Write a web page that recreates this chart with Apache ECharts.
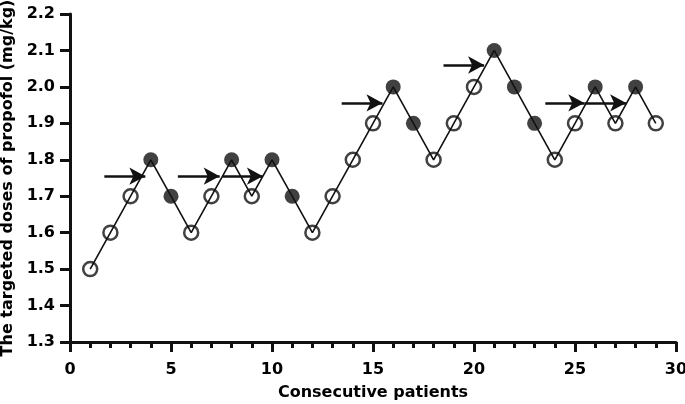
<!DOCTYPE html>
<html><head><meta charset="utf-8">
<script src="https://cdn.jsdelivr.net/npm/echarts@6/dist/echarts.min.js"></script>
<style>html,body{margin:0;padding:0;background:#fff}#c{width:685px;height:404px}</style>
</head><body><div id="c"></div>
<script>
const patients = [1,2,3,4,5,6,7,8,9,10,11,12,13,14,15,16,17,18,19,20,21,22,23,24,25,26,27,28,29];
const doses = [1.5,1.6,1.7,1.8,1.7,1.6,1.7,1.8,1.7,1.8,1.7,1.6,1.7,1.8,1.9,2.0,1.9,1.8,1.9,2.0,2.1,2.0,1.9,1.8,1.9,2.0,1.9,2.0,1.9];
// 1 = filled (response), 0 = open
const filled = [0,0,0,1,1,0,0,1,0,1,1,0,0,0,0,1,1,0,0,0,1,1,1,0,0,1,0,1,0];
// arrows: [xStart, xEnd, y]
const arrows = [[1.7,3.73,1.755],[5.34,7.41,1.755],[7.56,9.55,1.755],[13.45,15.47,1.956],[18.49,20.5,2.06],[23.53,25.46,1.956],[25.46,27.53,1.956]];
const yTicks = [1.3,1.4,1.5,1.6,1.7,1.8,1.9,2.0,2.1,2.2];

const lineData = patients.map((p,i)=>[p,doses[i]]);
const openData = patients.map((p,i)=>[p,doses[i]]).filter((d,i)=>!filled[i]);
const filledData = patients.map((p,i)=>[p,doses[i]]).filter((d,i)=>filled[i]);

const font = 'DejaVu Sans, sans-serif';
const chart = echarts.init(document.getElementById('c'));
chart.setOption({
  animation:false,
  grid:{left:70,right:9,top:14,bottom:62,containLabel:false,outerBoundsMode:'none'},
  xAxis:{type:'value',min:0,max:30,interval:5,
    name:'Consecutive patients',nameLocation:'middle',nameGap:43,
    nameTextStyle:{color:'#000',fontWeight:'bold',fontSize:16,fontFamily:font},
    axisLine:{show:true,onZero:false,lineStyle:{color:'#111',width:3}},
    axisTick:{show:true,length:10,lineStyle:{color:'#111',width:3}},
    minorTick:{show:true,splitNumber:5,length:6,lineStyle:{color:'#111',width:3}},
    splitLine:{show:false},
    axisLabel:{color:'#000',fontWeight:'bold',fontSize:16,fontFamily:font,margin:20,
      formatter:v=>String(v)}},
  yAxis:{type:'value',min:1.3,max:2.2,interval:0.1,
    name:'The targeted doses of propofol (mg/kg)',nameLocation:'middle',nameGap:51,nameRotate:90,
    nameTextStyle:{color:'#000',fontWeight:'bold',fontSize:16,fontFamily:font},
    axisLine:{show:true,onZero:false,lineStyle:{color:'#111',width:3}},
    axisTick:{show:true,length:10,lineStyle:{color:'#111',width:3}},
    splitLine:{show:false},
    axisLabel:{color:'#000',fontWeight:'bold',fontSize:16,fontFamily:font,margin:15,
      formatter:v=>v.toFixed(1)}},
  series:[
    {type:'scatter',data:openData,symbol:'circle',symbolSize:14,z:2,
      itemStyle:{color:'#fff',borderColor:'#111',borderWidth:2.5}},
    {type:'line',data:lineData,showSymbol:false,symbol:'none',z:3,
      lineStyle:{color:'#111',width:1.6},
      markLine:{silent:true,symbol:['none','arrow'],symbolSize:[13,16],label:{show:false},
        lineStyle:{color:'#111',width:2.5,type:'solid'},
        data:arrows.map(a=>[{coord:[a[0],a[2]]},{coord:[a[1],a[2]]}])}},
    {type:'scatter',data:filledData,symbol:'circle',symbolSize:15,z:4,
      itemStyle:{color:'#111'}}
  ]
});
</script></body></html>
